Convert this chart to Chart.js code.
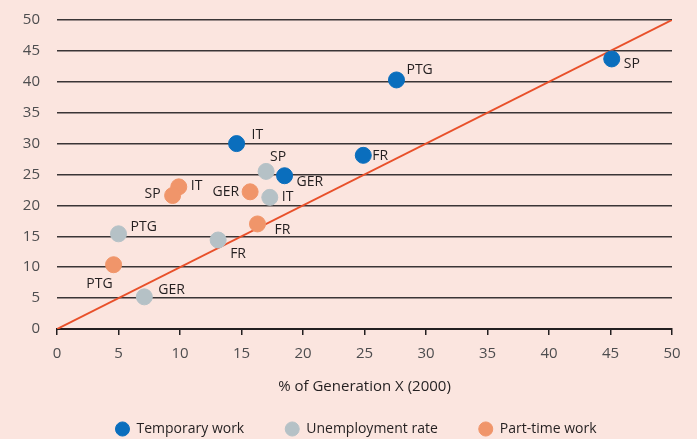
<!DOCTYPE html>
<html>
<head>
<meta charset="utf-8">
<script src="https://cdn.jsdelivr.net/npm/chart.js@4.4.0/dist/chart.umd.min.js"></script>
<style>
  html, body { margin: 0; padding: 0; background: #fbe5df; }
  #wrap { width: 697px; height: 439px; }
</style>
</head>
<body>
<div id="wrap"><canvas id="chart" width="697" height="439"></canvas></div>
<script>
// values: x = % of Generation X (2000), y = other axis
var countries = ['IT', 'PTG', 'SP', 'FR', 'GER'];
var temporaryX = [14.6, 27.6, 45.1, 24.9, 18.5];
var temporaryY = [30.0, 40.3, 43.7, 28.1, 24.8];
var unemploymentX = [17.3, 5.0, 17.0, 13.1, 7.1];
var unemploymentY = [21.3, 15.4, 25.5, 14.4, 5.2];
var parttimeX = [9.9, 4.6, 9.4, 16.3, 15.7];
var parttimeY = [23.0, 10.4, 21.6, 17.0, 22.2];
var xTicks = [0, 5, 10, 15, 20, 25, 30, 35, 40, 45, 50];
var yTicks = [0, 5, 10, 15, 20, 25, 30, 35, 40, 45, 50];

var FONT = "'Open Sans', 'Noto Sans', sans-serif";

function toPoints(xs, ys) {
    var out = [];
    for (var i = 0; i < xs.length; i++) {
        out.push({ x: xs[i], y: ys[i], label: countries[i] });
    }
    return out;
}

// where each country label sits next to its dot: [dx, dy, align]
var labelPlace = {
    0: { IT: [15, -9, 'left'], PTG: [10, -10, 'left'], SP: [12, 5, 'left'], FR: [9, 1, 'left'], GER: [12, 6, 'left'] },
    1: { IT: [12, 0, 'left'], PTG: [12, -7, 'left'], SP: [4, -14, 'left'], FR: [12, 14, 'left'], GER: [14, -7, 'left'] },
    2: { IT: [12, -1, 'left'], PTG: [-1, 19, 'right'], SP: [-12, -1, 'right'], FR: [17, 6, 'left'], GER: [-11, 0, 'right'] }
};

var pointLabels = {
    id: 'pointLabels',
    afterDatasetsDraw: function(chart) {
        var ctx = chart.ctx;
        ctx.save();
        ctx.font = '14px ' + FONT;
        ctx.fillStyle = '#231f20';
        ctx.textBaseline = 'middle';
        for (var d = 0; d < 3; d++) {
            var meta = chart.getDatasetMeta(d);
            meta.data.forEach(function(pt, i) {
                var name = chart.data.datasets[d].data[i].label;
                var p = labelPlace[d][name];
                ctx.textAlign = p[2];
                ctx.fillText(name, pt.x + p[0], pt.y + p[1]);
            });
        }
        ctx.restore();
    }
};

// legend in the original sits a bit right of centre
var legendShift = {
    id: 'legendShift',
    afterLayout: function(chart) {
        chart.legend.left += 20;
        chart.legend.right += 20;
    }
};

var ctx = document.getElementById('chart').getContext('2d');
var myChart = new Chart(ctx, {
    type: 'scatter',
    data: {
        datasets: [{
            label: 'Temporary work',
            data: toPoints(temporaryX, temporaryY),
            backgroundColor: '#0a6ebd',
            borderColor: '#0a6ebd',
            pointRadius: 8,
            pointHoverRadius: 8,
            order: 1
        }, {
            label: 'Unemployment rate',
            data: toPoints(unemploymentX, unemploymentY),
            backgroundColor: '#b5c1c6',
            borderColor: '#b5c1c6',
            pointRadius: 8,
            pointHoverRadius: 8,
            order: 1
        }, {
            label: 'Part-time work',
            data: toPoints(parttimeX, parttimeY),
            backgroundColor: '#f0956a',
            borderColor: '#f0956a',
            pointRadius: 8,
            pointHoverRadius: 8,
            order: 1
        }, {
            type: 'line',
            label: 'diag',
            data: [{ x: xTicks[0], y: yTicks[0] }, { x: xTicks[xTicks.length - 1], y: yTicks[yTicks.length - 1] }],
            borderColor: '#e8502a',
            borderWidth: 2,
            pointRadius: 0,
            fill: false,
            order: 2
        }]
    },
    options: {
        responsive: false,
        animation: false,
        layout: { padding: { top: 20, right: 25, left: 0, bottom: -7 } },
        plugins: {
            tooltip: { enabled: false },
            legend: {
                position: 'bottom',
                labels: {
                    usePointStyle: true,
                    pointStyle: 'circle',
                    boxHeight: 10,
                    pointStyleWidth: 14,
                    padding: 41,
                    color: '#231f20',
                    font: { family: FONT, size: 14 },
                    filter: function(item) { return item.text !== 'diag'; }
                }
            }
        },
        scales: {
            x: {
                type: 'linear',
                min: 0,
                max: 50,
                afterBuildTicks: function(scale) {
                    scale.ticks = xTicks.map(function(v) { return { value: v }; });
                },
                afterFit: function(scale) { scale.height = 52; },
                grid: {
                    drawOnChartArea: false,
                    drawTicks: true,
                    tickLength: 6,
                    color: '#231f20',
                    lineWidth: 1.5
                },
                border: { color: '#231f20', width: 2 },
                ticks: {
                    color: '#4d4d4f',
                    padding: 10,
                    font: { family: FONT, size: 15 },
                    maxRotation: 0
                },
                title: {
                    display: true,
                    text: '% of Generation X (2000)',
                    color: '#231f20',
                    font: { family: FONT, size: 15 },
                    padding: { top: 0, bottom: -15 }
                }
            },
            y: {
                type: 'linear',
                min: 0,
                max: 50,
                afterBuildTicks: function(scale) {
                    scale.ticks = yTicks.map(function(v) { return { value: v }; });
                },
                afterFit: function(scale) { scale.width = 57; },
                grid: {
                    drawTicks: true,
                    tickLength: 6,
                    tickColor: 'rgba(0,0,0,0)',
                    color: function(c) { return c.tick.value === 0 ? 'rgba(0,0,0,0)' : '#3a3536'; },
                    lineWidth: 1.5
                },
                border: { display: false },
                ticks: {
                    color: '#4d4d4f',
                    padding: 11,
                    font: { family: FONT, size: 15 }
                }
            }
        }
    },
    plugins: [pointLabels, legendShift]
});
</script>
</body>
</html>
